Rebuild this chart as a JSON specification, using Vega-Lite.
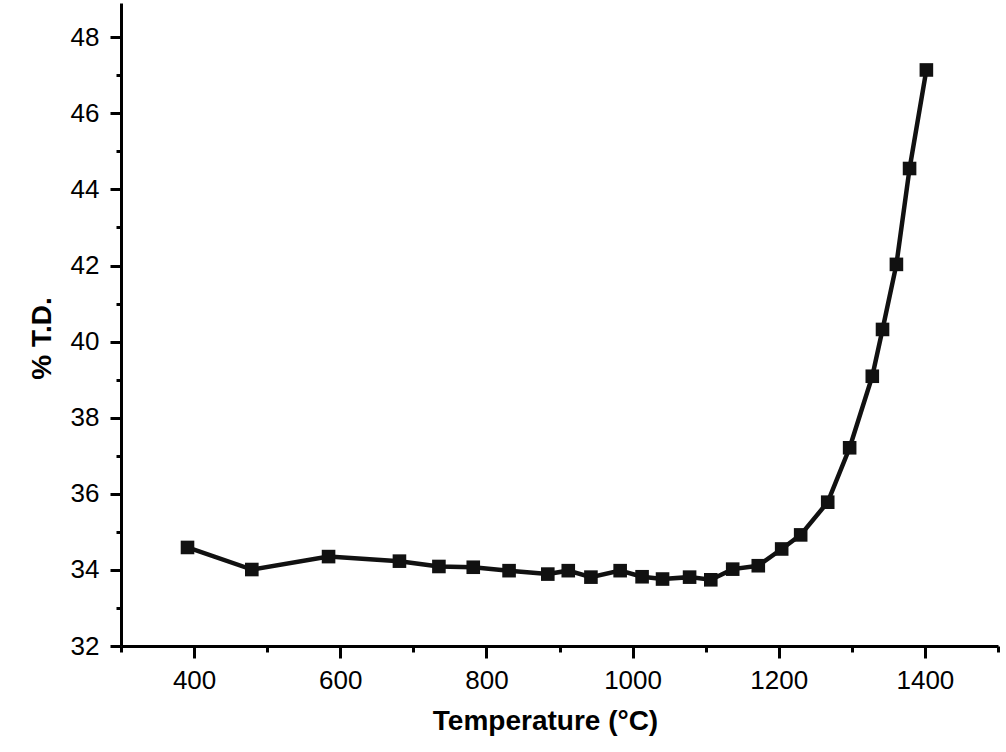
{
  "$schema": "https://vega.github.io/schema/vega-lite/v6.json",
  "description": "% T.D. against temperature",
  "width": 877,
  "height": 643,
  "autosize": "none",
  "padding": {"left": 121, "top": 3, "right": 8, "bottom": 106},
  "background": "white",
  "config": {"view": {"stroke": null}, "font": "Liberation Sans"},
  "data": {
    "values": [
      {"temp": 391, "td": 34.59},
      {"temp": 479, "td": 34.01},
      {"temp": 584, "td": 34.35},
      {"temp": 681, "td": 34.23},
      {"temp": 735, "td": 34.09},
      {"temp": 782, "td": 34.07},
      {"temp": 831, "td": 33.98},
      {"temp": 884, "td": 33.89},
      {"temp": 912, "td": 33.98},
      {"temp": 943, "td": 33.81},
      {"temp": 983, "td": 33.98},
      {"temp": 1013, "td": 33.82},
      {"temp": 1041, "td": 33.76},
      {"temp": 1078, "td": 33.81},
      {"temp": 1107, "td": 33.74},
      {"temp": 1137, "td": 34.02},
      {"temp": 1172, "td": 34.11},
      {"temp": 1204, "td": 34.55},
      {"temp": 1230, "td": 34.92},
      {"temp": 1267, "td": 35.78},
      {"temp": 1297, "td": 37.21},
      {"temp": 1328, "td": 39.09},
      {"temp": 1342, "td": 40.32},
      {"temp": 1361, "td": 42.03},
      {"temp": 1379, "td": 44.55},
      {"temp": 1402, "td": 47.14}
    ]
  },
  "encoding": {
    "x": {
      "field": "temp",
      "type": "quantitative",
      "scale": {"domain": [300, 1500], "nice": false, "zero": false},
      "axis": {
        "title": "Temperature (°C)",
        "values": [300, 400, 500, 600, 700, 800, 900, 1000, 1100, 1200, 1300, 1400, 1500],
        "format": "d",
        "labelExpr": "datum.value % 200 === 0 ? datum.label : ''",
        "grid": false,
        "domainColor": "black",
        "domainWidth": 3,
        "tickColor": "black",
        "tickWidth": 3,
        "tickSize": {"condition": {"test": "datum.value % 200 === 0", "value": 12}, "value": 6},
        "labelFontSize": 26,
        "labelColor": "black",
        "labelPadding": 9,
        "labelFlush": false,
        "labelOverlap": false,
        "titleFontSize": 28,
        "titleFontWeight": "bold",
        "titleColor": "black",
        "titlePadding": 14,
        "titleX": 424
      }
    },
    "y": {
      "field": "td",
      "type": "quantitative",
      "scale": {"domain": [32, 48.9], "nice": false, "zero": false},
      "axis": {
        "title": "% T.D.",
        "values": [32, 33, 34, 35, 36, 37, 38, 39, 40, 41, 42, 43, 44, 45, 46, 47, 48],
        "labelExpr": "datum.value % 2 === 0 ? datum.label : ''",
        "grid": false,
        "domainColor": "black",
        "domainWidth": 3,
        "tickColor": "black",
        "tickWidth": 3,
        "tickSize": {"condition": {"test": "datum.value % 2 === 0", "value": 11}, "value": 5},
        "labelFontSize": 26,
        "labelColor": "black",
        "labelPadding": 11,
        "labelFlush": false,
        "labelOverlap": false,
        "titleFontSize": 28,
        "titleFontWeight": "bold",
        "titleColor": "black",
        "titlePadding": 14,
        "titleY": 335
      }
    }
  },
  "layer": [
    {
      "mark": {"type": "line", "color": "#111111", "strokeWidth": 4.5}
    },
    {
      "mark": {"type": "point", "shape": "square", "filled": true, "size": 185, "color": "#111111", "opacity": 1}
    }
  ]
}
